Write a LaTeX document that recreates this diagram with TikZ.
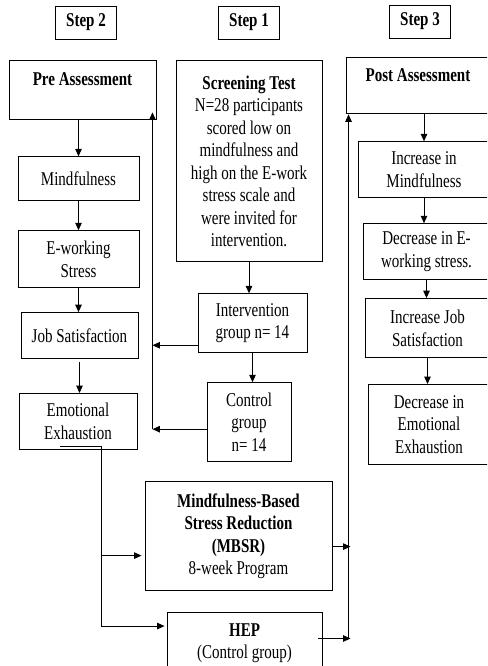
\documentclass[tikz,border=0pt]{standalone}
\usepackage{fontspec}
\setmainfont{Liberation Serif}[FakeStretch=0.77]
\usepackage{tikz}
\usetikzlibrary{arrows.meta, positioning, calc}

\begin{document}
\begin{tikzpicture}[
  x = 1pt, y = 1pt,
  node distance = 20pt and 20pt,
  every node/.style = {font=\fontsize{19.5}{22.5}\selectfont},
  box/.style     = {rectangle, draw, line width=0.9pt, align=flush center,
                    text width=#1, minimum width=#1,
                    inner xsep=0pt, inner ysep=2pt},
  steplbl/.style = {rectangle, draw, line width=0.9pt,
                    minimum width=61pt, minimum height=33pt,
                    font=\fontsize{19.5}{22.5}\selectfont\bfseries},
  arr/.style     = {-{Triangle[length=7.5pt, width=6.5pt]}, line width=1pt},
]
\useasboundingbox (0,0) rectangle (487,-666);
\clip (0,0) rectangle (487,-666);

\node[steplbl] (s2) at (86,-22.5)  {Step 2};
\node[steplbl] (s1) at (249,-22.5) {Step 1};
\node[steplbl] (s3) at (420,-21.5) {Step 3};

\node[box=147pt, minimum height=59pt, below=21pt of s2, xshift=-3.5pt] (pre)
  {\textbf{Pre Assessment}\\ \mbox{}};
\node[box=121pt, minimum height=44pt, below=36pt of pre, xshift=-4pt] (mind) {Mindfulness};
\node[box=121pt, minimum height=57pt, below=29pt of mind]              (ews)  {E-working\\Stress};
\node[box=117pt, minimum height=46pt, below=24pt of ews, xshift=1pt]   (job)  {Job Satisfaction};
\node[box=118pt, minimum height=56pt, below=34pt of job, xshift=-1.5pt] (emo) {Emotional\\Exhaustion};

\node[box=146pt, minimum height=201pt, below=21pt of s1] (screen)
  {\textbf{Screening Test}\\N=28 participants\\scored low on\\mindfulness and\\high on the E-work\\stress scale and\\were invited for\\intervention.};
\node[box=109pt, minimum height=59pt, below=31pt of screen, xshift=3.5pt] (inter) {Intervention\\group n= 14};
\node[box=84pt,  minimum height=79pt, below=29pt of inter, xshift=-3.5pt] (ctrl)  {Control\\group\\n= 14};
\node[box=187pt, minimum height=109pt, below=19pt of ctrl, xshift=-10.5pt] (mbsr)
  {\textbf{Mindfulness-Based}\\\textbf{Stress Reduction}\\\textbf{(MBSR)}\\8-week Program};
\node[box=155pt, minimum height=61pt, below=21pt of mbsr, xshift=6pt] (hep)
  {\textbf{HEP}\\(Control group)};

\node[box=144pt, minimum height=56pt, below=19pt of s3, xshift=-2pt] (post)
  {\textbf{Post Assessment}\\ \mbox{}};
\node[box=132pt, minimum height=56pt, below=27pt of post, xshift=6pt]      (incmind) {Increase in\\Mindfulness};
\node[box=127pt, minimum height=56pt, below=25pt of incmind, xshift=2.5pt] (decews)  {Decrease in E-\\working stress.};
\node[box=125pt, minimum height=59pt, below=18pt of decews, xshift=1pt]    (incjob)  {Increase Job\\Satisfaction};
\node[box=122pt, minimum height=80pt, below=26pt of incjob, xshift=1.5pt]  (decemo)  {Decrease in\\Emotional\\Exhaustion};

\coordinate (lbus) at ($(pre.south east)+(-4,0)$);
\coordinate (rbus) at ($(post.south west)+(3,0)$);
\coordinate (ebus) at ($(emo.south)+(23,0)$);
\coordinate (emoout) at ($(emo.south)+(-18,4)$);
\coordinate (mbsrin) at ([yshift=-19.5pt]mbsr.west);
\coordinate (hepin)  at ([yshift=-14pt]hep.north west);
\coordinate (mbsrout) at ([yshift=-10.5pt]mbsr.east);
\coordinate (hepout)  at ([xshift=-4pt, yshift=4.5pt]hep.east);

\draw[arr] (pre.south -| mind.north) -- (mind.north);
\draw[arr] (mind) -- (ews);
\draw[arr] (ews.south) -- (ews.south |- job.north);
\draw[arr] ([yshift=-3pt]job.south) -- (job.south |- emo.north);

\draw[arr] (screen.south) -- (screen.south |- inter.north);
\draw[arr] (inter.south) -- (inter.south |- ctrl.north);
\draw[arr] ([yshift=8pt]inter.south west) -- ([yshift=8pt]inter.south west -| lbus);
\draw[arr] ([yshift=-7pt]ctrl.west) -- ([yshift=-7pt]ctrl.west -| lbus);
\draw[arr] ([yshift=-7pt]ctrl.west -| lbus) -- ([yshift=8pt]lbus);

\draw (emoout) -| (ebus |- hepin);
\draw[arr, shorten >=3pt] (ebus |- mbsrin) -- (mbsrin);
\draw[arr, shorten >=2pt] (ebus |- hepin) -- (hepin);

\draw[arr] (mbsrout) -- ([xshift=2pt]mbsrout -| rbus);
\draw[arr] (hepout) -- ([xshift=2pt]hepout -| rbus);
\draw[arr] (hepout -| rbus) -- (rbus);

\draw[arr] (post.south -| incmind.north) -- (incmind.north);
\draw[arr] (incmind.south) -- (incmind.south |- decews.north);
\draw[arr] (decews.south) -- (decews.south |- incjob.north);
\draw[arr] (incjob.south) -- (incjob.south |- decemo.north);
\end{tikzpicture}
\end{document}
